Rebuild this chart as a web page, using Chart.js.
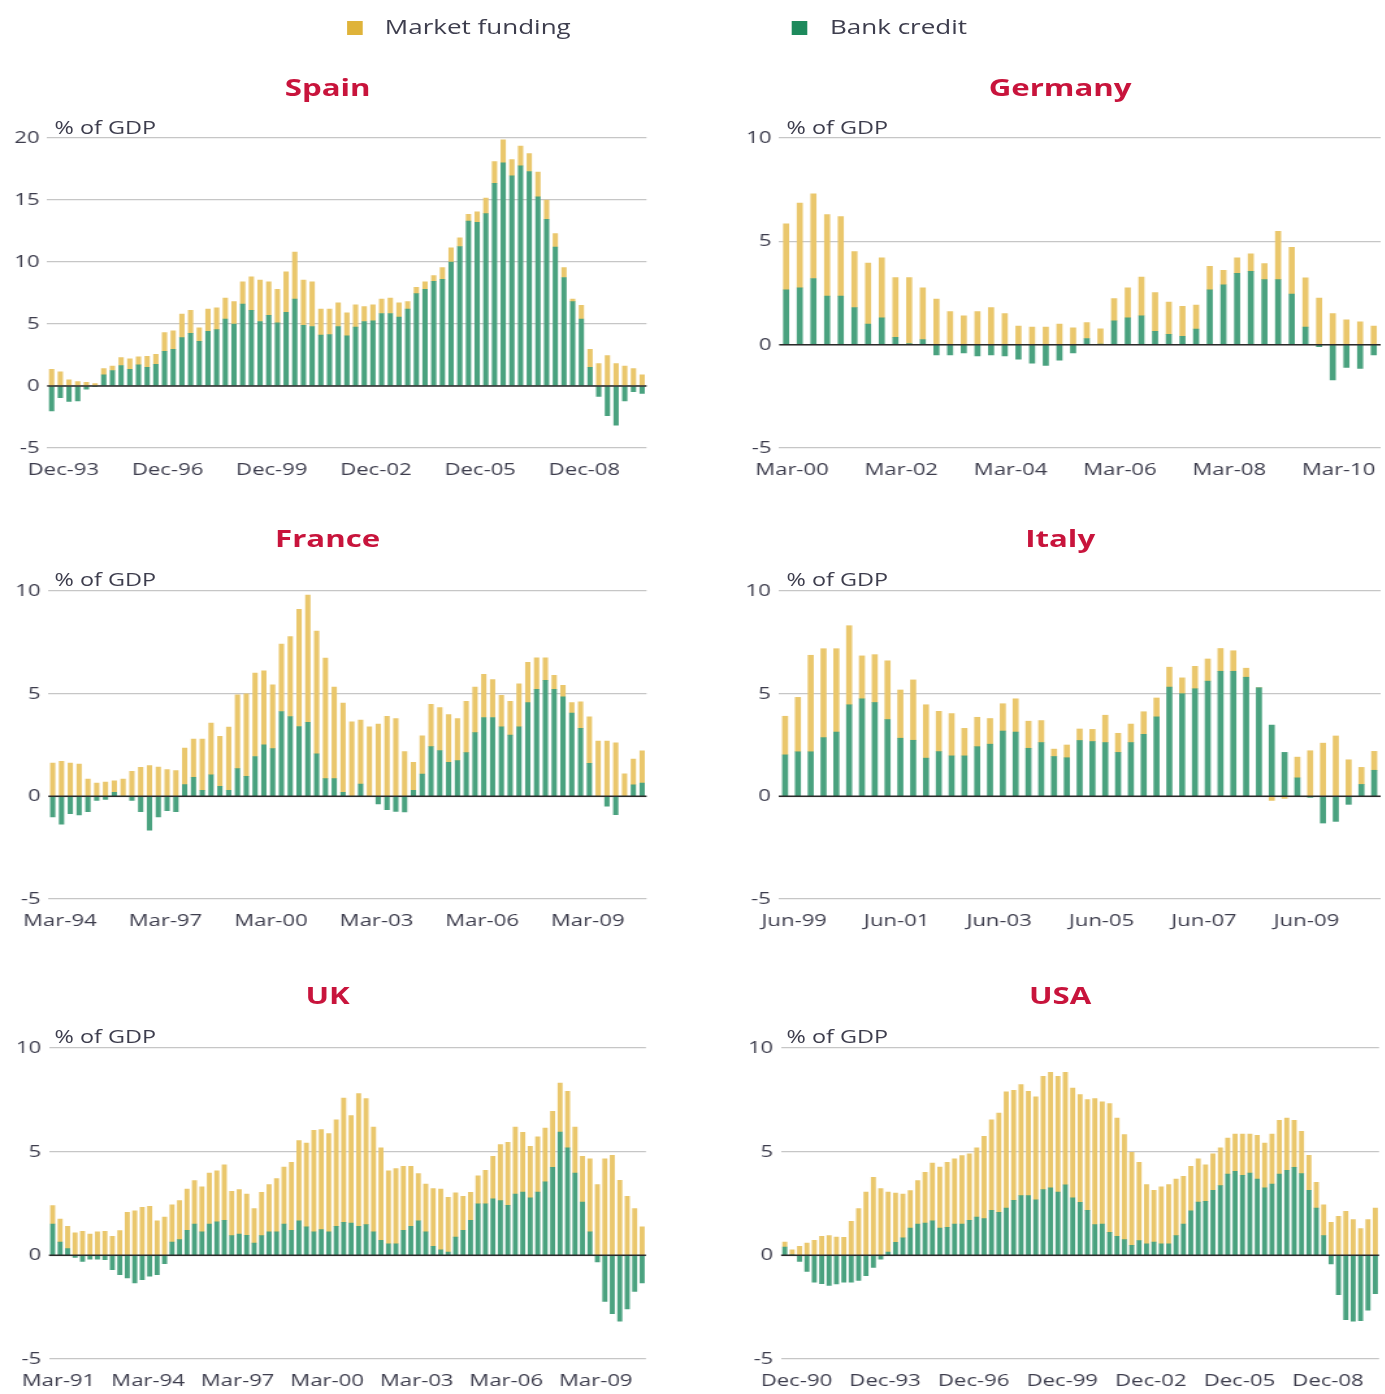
<!DOCTYPE html>
<html>
<head>
<meta charset="utf-8">
<title>Market funding and bank credit</title>
<script src="https://cdn.jsdelivr.net/npm/chart.js@4.4.1/dist/chart.umd.min.js"></script>
<style>
html, body { margin: 0; padding: 0; background: #fff; overflow: hidden; }
#page {
    position: absolute; left: 0; top: 0;
    width: 1066px; height: 1394px;
    transform: scaleX(1.3); transform-origin: 0 0;
    font-family: 'Open Sans', sans-serif;
}
.box { position: absolute; width: 11.5px; height: 14px; top: 21px; }
.legtxt { position: absolute; top: 15px; font-size: 20px; line-height: 24px; color: #3d3d4d; white-space: nowrap; }
.title { position: absolute; width: 504px; text-align: center; font-weight: 700; font-size: 24px; line-height: 32px; color: #c8143c; }
.unit { position: absolute; font-size: 18px; line-height: 20px; color: #3d3d4d; white-space: nowrap; }
.panel { position: absolute; width: 506px; }
</style>
</head>
<body>
<div id="page">
    <div class="box" style="left:267px; background:#dfb33a;"></div>
    <div class="legtxt" style="left:296px;">Market funding</div>
    <div class="box" style="left:609px; background:#1d8a5c;"></div>
    <div class="legtxt" style="left:638.5px;">Bank credit</div>

    <div class="title" style="left:0; top:71px;">Spain</div>
    <div class="title" style="left:563.5px; top:71px;">Germany</div>
    <div class="title" style="left:0; top:522px;">France</div>
    <div class="title" style="left:563.5px; top:522px;">Italy</div>
    <div class="title" style="left:0; top:979px;">UK</div>
    <div class="title" style="left:563.5px; top:979px;">USA</div>

    <div class="unit" style="left:42px; top:117px;">% of GDP</div>
    <div class="unit" style="left:605px; top:117px;">% of GDP</div>
    <div class="unit" style="left:42px; top:569px;">% of GDP</div>
    <div class="unit" style="left:605px; top:569px;">% of GDP</div>
    <div class="unit" style="left:42px; top:1026px;">% of GDP</div>
    <div class="unit" style="left:605px; top:1026px;">% of GDP</div>

    <div class="panel" style="left:0; top:118px; height:366px;"><canvas id="chartSpain"></canvas></div>
    <div class="panel" style="left:563.5px; top:118px; height:366px;"><canvas id="chartGermany"></canvas></div>
    <div class="panel" style="left:0; top:571px; height:364px;"><canvas id="chartFrance"></canvas></div>
    <div class="panel" style="left:563.5px; top:571px; height:364px;"><canvas id="chartItaly"></canvas></div>
    <div class="panel" style="left:0; top:1028px; height:367px;"><canvas id="chartUK"></canvas></div>
    <div class="panel" style="left:563.5px; top:1028px; height:367px;"><canvas id="chartUSA"></canvas></div>
</div>

<script>
// quarterly series, % of GDP
var spainStart = 'Dec-93';
var spainTicks = ['Dec-93', 'Dec-96', 'Dec-99', 'Dec-02', 'Dec-05', 'Dec-08'];
var spainBank = [-2.0, -0.95, -1.25, -1.2, -0.25, -0.05, 0.9, 1.25, 1.65, 1.35, 1.7, 1.5, 1.75, 2.8, 2.95, 3.9, 4.25, 3.6, 4.4, 4.55,
    5.4, 5.0, 6.6, 6.1, 5.2, 5.7, 5.1, 5.95, 7.0, 4.9, 4.8, 4.1, 4.15, 4.8, 4.05, 4.75, 5.2, 5.25, 5.85, 5.85,
    5.55, 6.2, 7.45, 7.8, 8.45, 8.6, 10.0, 11.25, 13.3, 13.2, 13.9, 16.35, 18.0, 16.95, 17.75, 17.3, 15.25, 13.45, 11.2, 8.75,
    6.8, 5.4, 1.5, -0.85, -2.4, -3.15, -1.2, -0.45, -0.6];
var spainMarket = [1.35, 1.15, 0.5, 0.35, 0.3, 0.2, 0.5, 0.35, 0.65, 0.85, 0.65, 0.9, 0.8, 1.5, 1.5, 1.9, 1.85, 1.1, 1.8, 1.75,
    1.7, 1.8, 1.8, 2.7, 3.35, 2.7, 2.7, 3.25, 3.8, 3.65, 3.6, 2.1, 2.05, 1.9, 1.85, 1.8, 1.2, 1.3, 1.15, 1.25,
    1.15, 0.6, 0.5, 0.6, 0.45, 0.95, 1.15, 0.7, 0.55, 0.85, 1.25, 1.75, 1.85, 1.3, 1.6, 1.45, 2.0, 1.55, 1.1, 0.8,
    0.2, 1.1, 1.45, 1.8, 2.45, 1.8, 1.6, 1.4, 0.9];

var germanyStart = 'Mar-00';
var germanyTicks = ['Mar-00', 'Mar-02', 'Mar-04', 'Mar-06', 'Mar-08', 'Mar-10'];
var germanyBank = [2.65, 2.75, 3.2, 2.35, 2.35, 1.8, 1.0, 1.3, 0.35, 0.05, 0.25, -0.5, -0.5, -0.4, -0.55, -0.5, -0.55, -0.7, -0.9, -1.0,
    -0.75, -0.4, 0.3, 0.02, 1.15, 1.3, 1.4, 0.65, 0.5, 0.4, 0.75, 2.65, 2.9, 3.45, 3.55, 3.15, 3.15, 2.45, 0.85, -0.1,
    -1.7, -1.1, -1.15, -0.5];
var germanyMarket = [3.2, 4.1, 4.1, 3.95, 3.85, 2.7, 2.95, 2.9, 2.9, 3.2, 2.5, 2.2, 1.6, 1.4, 1.6, 1.8, 1.5, 0.9, 0.85, 0.85,
    1.0, 0.82, 0.77, 0.75, 1.08, 1.45, 1.87, 1.87, 1.56, 1.45, 1.17, 1.14, 0.7, 0.75, 0.85, 0.77, 2.33, 2.26, 2.39, 2.26,
    1.5, 1.2, 1.1, 0.9];

var franceStart = 'Mar-94';
var franceTicks = ['Mar-94', 'Mar-97', 'Mar-00', 'Mar-03', 'Mar-06', 'Mar-09'];
var franceBank = [-1.0, -1.35, -0.85, -0.9, -0.75, -0.2, -0.15, 0.2, 0, -0.2, -0.75, -1.65, -1.0, -0.7, -0.75, 0.57, 0.92, 0.29, 1.05, 0.49,
    0.29, 1.35, 0.97, 1.94, 2.51, 2.32, 4.13, 3.89, 3.4, 3.6, 2.07, 0.86, 0.86, 0.19, 0, 0.6, 0, -0.37, -0.65, -0.73,
    -0.76, 0.29, 1.08, 2.42, 2.23, 1.66, 1.74, 2.13, 3.1, 3.84, 3.84, 3.39, 2.98, 3.39, 4.56, 5.21, 5.65, 5.21, 4.84, 4.06,
    3.31, 1.61, 0, -0.48, -0.89, 0, 0.56, 0.65];
var franceMarket = [1.62, 1.7, 1.62, 1.57, 0.84, 0.65, 0.7, 0.56, 0.84, 1.22, 1.41, 1.5, 1.43, 1.3, 1.26, 1.78, 1.87, 2.5, 2.52, 2.43,
    3.08, 3.59, 4.02, 4.06, 3.6, 3.11, 3.29, 3.89, 5.71, 6.2, 5.98, 5.87, 4.46, 4.35, 3.63, 3.11, 3.39, 3.52, 3.9, 3.79,
    2.18, 1.36, 1.87, 2.06, 2.09, 2.32, 2.05, 2.5, 2.22, 2.1, 1.85, 1.53, 1.65, 2.09, 1.97, 1.53, 1.09, 0.68, 0.56, 0.5,
    1.29, 2.26, 2.69, 2.69, 2.61, 1.1, 1.26, 1.56];

var italyStart = 'Jun-99';
var italyTicks = ['Jun-99', 'Jun-01', 'Jun-03', 'Jun-05', 'Jun-07', 'Jun-09'];
var italyBank = [2.02, 2.17, 2.17, 2.86, 3.13, 4.46, 4.75, 4.57, 3.74, 2.83, 2.73, 1.86, 2.18, 1.97, 1.97, 2.42, 2.54, 3.18, 3.13, 2.34,
    2.62, 1.94, 1.88, 2.72, 2.67, 2.62, 2.14, 2.62, 3.02, 3.87, 5.32, 5.0, 5.24, 5.61, 6.09, 6.09, 5.8, 5.29, 3.47, 2.14,
    0.9, -0.05, -1.3, -1.22, -0.39, 0.58, 1.27];
var italyMarket = [1.88, 2.65, 4.7, 4.33, 4.06, 3.85, 2.09, 2.33, 2.86, 2.35, 2.94, 2.6, 1.96, 2.06, 1.34, 1.43, 1.25, 1.33, 1.62, 1.32,
    1.07, 0.36, 0.62, 0.56, 0.59, 1.33, 0.93, 0.9, 1.1, 0.92, 0.97, 0.77, 1.09, 1.08, 1.11, 1.0, 0.44, 0, -0.2, -0.1,
    1.01, 2.22, 2.59, 2.94, 1.78, 0.83, 0.92];

var ukStart = 'Mar-91';
var ukTicks = ['Mar-91', 'Mar-94', 'Mar-97', 'Mar-00', 'Mar-03', 'Mar-06', 'Mar-09'];
var ukBank = [1.51, 0.64, 0.32, -0.1, -0.29, -0.18, -0.18, -0.21, -0.69, -0.93, -1.09, -1.33, -1.17, -1.01, -0.93, -0.4, 0.64, 0.76, 1.21, 1.51,
    1.13, 1.51, 1.61, 1.69, 0.95, 1.03, 0.96, 0.59, 0.95, 1.13, 1.13, 1.51, 1.21, 1.67, 1.37, 1.13, 1.24, 1.13, 1.4, 1.59,
    1.56, 1.4, 1.48, 1.13, 0.72, 0.56, 0.56, 1.21, 1.4, 1.67, 1.13, 0.43, 0.27, 0.16, 0.88, 1.21, 1.69, 2.49, 2.49, 2.73,
    2.64, 2.41, 2.96, 3.05, 2.77, 3.05, 3.54, 4.24, 5.95, 5.18, 3.97, 2.57, 1.13, -0.32, -2.22, -2.81, -3.18, -2.59, -1.74, -1.33];
var ukMarket = [0.89, 1.11, 1.08, 1.08, 1.16, 1.03, 1.13, 1.16, 0.92, 1.19, 2.07, 2.15, 2.32, 2.36, 1.67, 1.85, 1.8, 1.88, 1.99, 2.09,
    2.17, 2.46, 2.47, 2.68, 2.14, 2.14, 2.0, 1.66, 2.09, 2.28, 2.57, 2.75, 3.28, 3.86, 4.05, 4.9, 4.82, 4.74, 5.14, 6.0,
    5.18, 6.4, 6.08, 5.06, 4.46, 3.52, 3.62, 3.08, 2.89, 2.27, 2.31, 2.79, 2.93, 2.64, 2.13, 1.64, 1.35, 1.35, 1.61, 2.04,
    2.7, 3.04, 3.23, 2.88, 2.49, 2.66, 2.6, 2.71, 2.36, 2.73, 2.22, 2.2, 3.53, 3.41, 4.66, 4.82, 3.62, 2.85, 2.25, 1.37];

var usaStart = 'Dec-90';
var usaTicks = ['Dec-90', 'Dec-93', 'Dec-96', 'Dec-99', 'Dec-02', 'Dec-05', 'Dec-08'];
var usaBank = [0.4, 0.02, -0.29, -0.77, -1.29, -1.37, -1.45, -1.38, -1.29, -1.29, -1.21, -0.98, -0.58, -0.18, 0.16, 0.63, 0.84, 1.32, 1.51, 1.56,
    1.67, 1.32, 1.35, 1.51, 1.51, 1.69, 1.85, 1.77, 2.17, 2.07, 2.28, 2.65, 2.88, 2.88, 2.68, 3.17, 3.25, 3.05, 3.4, 2.77,
    2.56, 2.17, 1.48, 1.51, 1.11, 0.92, 0.76, 0.48, 0.71, 0.55, 0.64, 0.55, 0.55, 0.95, 1.51, 2.15, 2.57, 2.6, 3.14, 3.36,
    3.92, 4.05, 3.86, 3.97, 3.68, 3.25, 3.44, 3.92, 4.1, 4.24, 3.94, 3.14, 2.28, 0.95, -0.42, -1.9, -3.1, -3.18, -3.15, -2.65,
    -1.85];
var usaMarket = [0.24, 0.25, 0.43, 0.59, 0.72, 0.92, 0.95, 0.88, 0.87, 1.64, 2.25, 3.05, 3.76, 3.22, 2.89, 2.37, 2.12, 1.8, 2.09, 2.44,
    2.78, 2.94, 3.14, 3.15, 3.3, 3.21, 3.33, 3.97, 4.37, 4.79, 5.6, 5.31, 5.35, 5.03, 4.96, 5.46, 5.58, 5.58, 5.43, 5.3,
    5.19, 5.34, 6.08, 5.89, 6.21, 5.7, 5.06, 4.49, 3.78, 2.86, 2.5, 2.75, 2.86, 2.73, 2.3, 2.14, 2.09, 1.77, 1.75, 1.82,
    1.74, 1.8, 1.99, 1.88, 2.11, 2.17, 2.41, 2.59, 2.52, 2.27, 2.04, 1.68, 1.24, 1.49, 1.59, 1.88, 2.12, 1.72, 1.29, 1.72,
    2.28];

Chart.defaults.font.family = "'Open Sans', sans-serif";
Chart.defaults.color = '#3d3d4d';

// quarter labels like 'Dec-93', 'Mar-94', ...
function quarters(start, n) {
    var months = ['Mar', 'Jun', 'Sep', 'Dec'];
    var q = months.indexOf(start.slice(0, 3));
    var y = parseInt(start.slice(4), 10);
    var out = [];
    for (var i = 0; i < n; i++) {
        out.push(months[q] + '-' + String(y).padStart(2, '0'));
        q++;
        if (q == 4) { q = 0; y = (y + 1) % 100; }
    }
    return out;
}

// zero line drawn on top of the bars
var zeroLine = {
    id: 'zeroLine',
    afterDatasetsDraw: function (chart) {
        var ctx = chart.ctx;
        var area = chart.chartArea;
        var y = chart.scales.y.getPixelForValue(0);
        ctx.save();
        ctx.strokeStyle = '#2a2a2a';
        ctx.lineWidth = 1.5;
        ctx.beginPath();
        ctx.moveTo(area.left, y);
        ctx.lineTo(area.right, y);
        ctx.stroke();
        ctx.restore();
    }
};

function plotarPainel(canvasId, start, bank, market, tickList, yMax, right, barW, labelOffset) {
    var labels = quarters(start, bank.length);
    var config = {
        type: 'bar',
        data: {
            labels: labels,
            datasets: [
                { label: 'Bank credit', data: bank, backgroundColor: '#4aa27f', barThickness: barW },
                { label: 'Market funding', data: market, backgroundColor: '#eac76c', barThickness: barW }
            ]
        },
        options: {
            responsive: true,
            maintainAspectRatio: false,
            animation: false,
            layout: { padding: { top: 20, right: right ? 8 : 8.3, left: 0, bottom: 0 } },
            plugins: { legend: { display: false }, tooltip: { enabled: false } },
            scales: {
                x: {
                    stacked: true,
                    grid: { display: false, drawTicks: false },
                    border: { display: false },
                    ticks: {
                        autoSkip: false,
                        maxRotation: 0,
                        minRotation: 0,
                        padding: 12,
                        labelOffset: labelOffset,
                        font: { size: 17 },
                        color: '#3d3d4d',
                        callback: function (value) {
                            var lbl = this.getLabelForValue(value);
                            return tickList.indexOf(lbl) >= 0 ? lbl : '';
                        }
                    },
                    afterFit: function (scale) { scale.height = 36; }
                },
                y: {
                    stacked: true,
                    min: -5,
                    max: yMax,
                    grid: { color: '#c6c6c6', lineWidth: 1.2, drawTicks: false },
                    border: { display: false },
                    ticks: { stepSize: 5, padding: 6, font: { size: 17 }, color: '#3d3d4d' },
                    afterFit: function (scale) { scale.width = right ? 35 : 35.4; }
                }
            }
        },
        plugins: [zeroLine]
    };
    new Chart(document.getElementById(canvasId), config);
}

plotarPainel('chartSpain', spainStart, spainBank, spainMarket, spainTicks, 20, false, 3.4, 9);
plotarPainel('chartGermany', germanyStart, germanyBank, germanyMarket, germanyTicks, 10, true, 4.0, 4.5);
plotarPainel('chartFrance', franceStart, franceBank, franceMarket, franceTicks, 10, false, 3.4, 5.5);
plotarPainel('chartItaly', italyStart, italyBank, italyMarket, italyTicks, 10, true, 4.0, 7);
plotarPainel('chartUK', ukStart, ukBank, ukMarket, ukTicks, 10, false, 3.2, 4.5);
plotarPainel('chartUSA', usaStart, usaBank, usaMarket, usaTicks, 10, true, 3.2, 9);
</script>
</body>
</html>
